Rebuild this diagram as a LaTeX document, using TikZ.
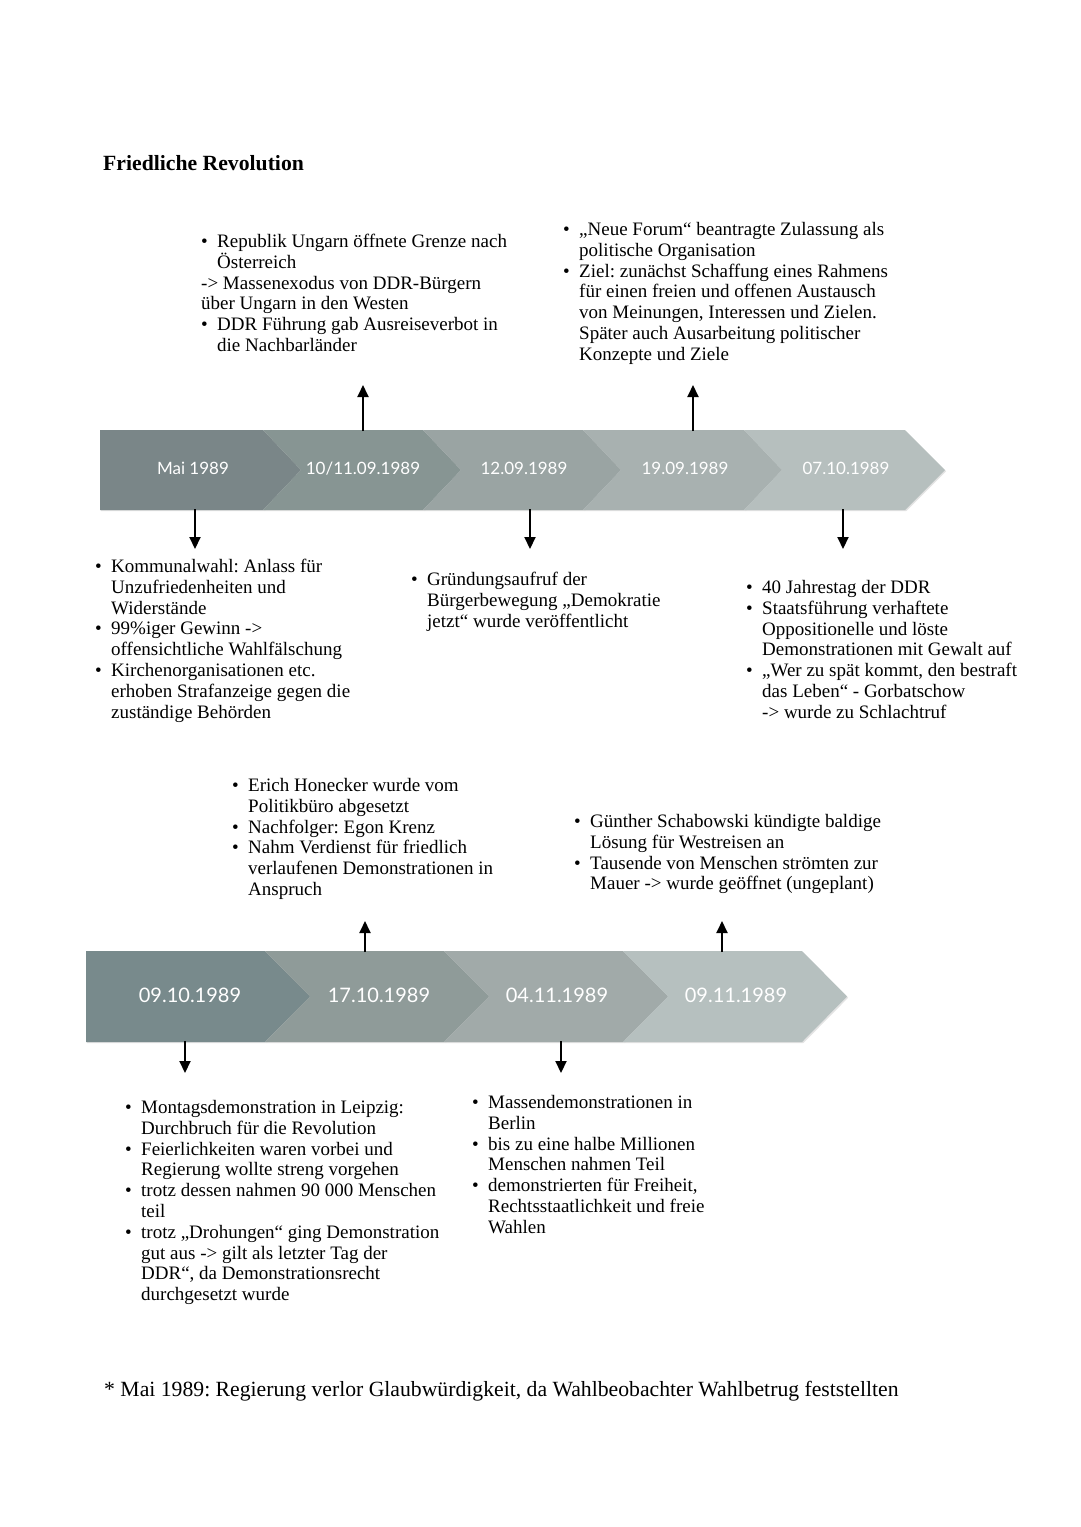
\documentclass[tikz,border=0pt]{standalone}
\usepackage{fontspec}
\setmainfont{Liberation Serif}
\newfontfamily\chevfont{Lato}
\usetikzlibrary{arrows.meta,shadows}
\frenchspacing
\newcommand\bitem{\makebox[16pt][l]{•}}
\newcommand\bind{\hspace*{16pt}}
\newcommand\fst{\rule{0pt}{15pt}}
\definecolor{ra}{HTML}{7A8688}
\definecolor{rb}{HTML}{879593}
\definecolor{rc}{HTML}{9AA4A3}
\definecolor{rd}{HTML}{A8B1B0}
\definecolor{re}{HTML}{B6BFBE}
\definecolor{sa}{HTML}{788A8C}
\definecolor{sb}{HTML}{8F9B99}
\definecolor{sc}{HTML}{A1AAA9}
\definecolor{sd}{HTML}{B6C0BF}
\tikzset{
  txt/.style={anchor=north west, inner sep=0pt, align=left, font=\fontsize{19}{20.8}\selectfont},
  chev/.style={drop shadow={shadow xshift=1.2pt, shadow yshift=-1.2pt, opacity=.22}},
  labA/.style={text=white, inner sep=0pt, anchor=base, font=\chevfont\fontsize{17}{17}\selectfont},
  labB/.style={text=white, inner sep=0pt, anchor=base, font=\chevfont\fontsize{20}{20}\selectfont},
  arr/.style={line width=2pt, -{Triangle[width=11pt,length=12pt]}},
}
\begin{document}
\begin{tikzpicture}[x=1pt,y=-1pt]
\useasboundingbox (0,0) rectangle (1080,1527);
\fill[white] (0,0) rectangle (1080,1527);

% title
\node[anchor=base west, inner sep=0pt, font=\bfseries\fontsize{21.7}{24}\selectfont] (title) at (103,170.5) {Friedliche Revolution};

% row 1 chevrons
\fill[ra,chev] (100,430) -- (263,430) -- (301,470) -- (263,510) -- (100,510) -- cycle;
\fill[rb,chev] (263,430) -- (423,430) -- (461,470) -- (423,510) -- (263,510) -- (301,470) -- cycle;
\fill[rc,chev] (423,430) -- (583,430) -- (621,470) -- (583,510) -- (423,510) -- (461,470) -- cycle;
\fill[rd,chev] (583,430) -- (744,430) -- (782,470) -- (744,510) -- (583,510) -- (621,470) -- cycle;
\fill[re,chev] (744,430) -- (905,430) -- (945,470) -- (905,510) -- (744,510) -- (782,470) -- cycle;
\node[labA] (d1) at (193,474) {Mai 1989};
\node[labA] (d2) at (363,474) {10/11.09.1989};
\node[labA] (d3) at (524,474) {12.09.1989};
\node[labA] (d4) at (685,474) {19.09.1989};
\node[labA] (d5) at (846,474) {07.10.1989};

% row 2 chevrons
\fill[sa,chev] (86,951) -- (265,951) -- (310,996.5) -- (265,1042) -- (86,1042) -- cycle;
\fill[sb,chev] (265,951) -- (444,951) -- (489,996.5) -- (444,1042) -- (265,1042) -- (310,996.5) -- cycle;
\fill[sc,chev] (444,951) -- (623,951) -- (668,996.5) -- (623,1042) -- (444,1042) -- (489,996.5) -- cycle;
\fill[sd,chev] (623,951) -- (802,951) -- (847,996.5) -- (802,1042) -- (623,1042) -- (668,996.5) -- cycle;
\node[labB] (e1) at (190,1002) {09.10.1989};
\node[labB] (e2) at (379,1002) {17.10.1989};
\node[labB] (e3) at (557,1002) {04.11.1989};
\node[labB] (e4) at (736,1002) {09.11.1989};

% arrow coordinates
\coordinate (a2s) at (363,431); \coordinate (a2e) at (363,385);
\coordinate (a4s) at (693,431); \coordinate (a4e) at (693,385);
\coordinate (a1s) at (195,509); \coordinate (a1e) at (195,549);
\coordinate (a3s) at (530,509); \coordinate (a3e) at (530,549);
\coordinate (a5s) at (843,509); \coordinate (a5e) at (843,549);
\coordinate (b2s) at (365,952); \coordinate (b2e) at (365,921);
\coordinate (b4s) at (722,952); \coordinate (b4e) at (722,921);
\coordinate (b1s) at (185,1041); \coordinate (b1e) at (185,1073);
\coordinate (b3s) at (561,1041); \coordinate (b3e) at (561,1073);
\foreach \s/\e in {a2s/a2e,a4s/a4e,a1s/a1e,a3s/a3e,a5s/a5e,b2s/b2e,b4s/b4e,b1s/b1e,b3s/b3e}
  \draw[arr] (\s) -- (\e);

% text blocks
\node[txt] (tA) at (201,232.3) {\fst\bitem Republik Ungarn öffnete Grenze nach\\
\bind Österreich\\
-> Massenexodus von DDR-Bürgern\\
über Ungarn in den Westen\\
\bitem DDR Führung gab Ausreiseverbot in\\
\bind die Nachbarländer};

\node[txt] (tB) at (563,220.3) {\fst\bitem „Neue Forum“ beantragte Zulassung als\\
\bind politische Organisation\\
\bitem Ziel: zunächst Schaffung eines Rahmens\\
\bind für einen freien und offenen Austausch\\
\bind von Meinungen, Interessen und Zielen.\\
\bind Später auch Ausarbeitung politischer\\
\bind Konzepte und Ziele};

\node[txt] (tC) at (95,557.3) {\fst\bitem Kommunalwahl: Anlass für\\
\bind Unzufriedenheiten und\\
\bind Widerstände\\
\bitem 99\%iger Gewinn ->\\
\bind offensichtliche Wahlfälschung\\
\bitem Kirchenorganisationen etc.\\
\bind erhoben Strafanzeige gegen die\\
\bind zuständige Behörden};

\node[txt] (tD) at (411,570.3) {\fst\bitem Gründungsaufruf der\\
\bind Bürgerbewegung „Demokratie\\
\bind jetzt“ wurde veröffentlicht};

\node[txt] (tE) at (746,578.3) {\fst\bitem 40 Jahrestag der DDR\\
\bitem Staatsführung verhaftete\\
\bind Oppositionelle und löste\\
\bind Demonstrationen mit Gewalt auf\\
\bitem „Wer zu spät kommt, den bestraft\\
\bind das Leben“ - Gorbatschow\\
\bind -> wurde zu Schlachtruf};

\node[txt] (tF) at (232,776.3) {\fst\bitem Erich Honecker wurde vom\\
\bind Politikbüro abgesetzt\\
\bitem Nachfolger: Egon Krenz\\
\bitem Nahm Verdienst für friedlich\\
\bind verlaufenen Demonstrationen in\\
\bind Anspruch};

\node[txt] (tG) at (574,812.3) {\fst\bitem Günther Schabowski kündigte baldige\\
\bind Lösung für Westreisen an\\
\bitem Tausende von Menschen strömten zur\\
\bind Mauer -> wurde geöffnet (ungeplant)};

\node[txt] (tH) at (125,1098.3) {\fst\bitem Montagsdemonstration in Leipzig:\\
\bind Durchbruch für die Revolution\\
\bitem Feierlichkeiten waren vorbei und\\
\bind Regierung wollte streng vorgehen\\
\bitem trotz dessen nahmen 90 000 Menschen\\
\bind teil\\
\bitem trotz „Drohungen“ ging Demonstration\\
\bind gut aus -> gilt als letzter Tag der\\
\bind DDR“, da Demonstrationsrecht\\
\bind durchgesetzt wurde};

\node[txt] (tI) at (472,1093.3) {\fst\bitem Massendemonstrationen in\\
\bind Berlin\\
\bitem bis zu eine halbe Millionen\\
\bind Menschen nahmen Teil\\
\bitem demonstrierten für Freiheit,\\
\bind Rechtsstaatlichkeit und freie\\
\bind Wahlen};

% footnote
\node[anchor=base west, inner sep=0pt, font=\fontsize{21.7}{24}\selectfont] (foot) at (104,1396.5) {* Mai 1989: Regierung verlor Glaubwürdigkeit, da Wahlbeobachter Wahlbetrug feststellten};
\end{tikzpicture}
\end{document}
